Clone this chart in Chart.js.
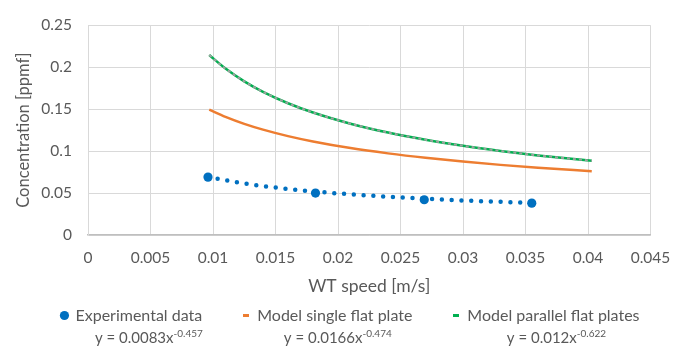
<!DOCTYPE html>
<html>
<head>
<meta charset="utf-8">
<title>Concentration vs WT speed</title>
<script src="https://cdn.jsdelivr.net/npm/chart.js@4.4.0/dist/chart.umd.min.js"></script>
<style>
    html, body { margin: 0; padding: 0; background: #fff; }
    #wrap { width: 688px; height: 355px; }
</style>
</head>
<body>
<div id="wrap"><canvas id="concChart" width="688" height="355"></canvas></div>
<script>
// Measured points
const expSpeed = [0.0096, 0.0182, 0.0269, 0.0355];
const expConc = [0.069, 0.050, 0.042, 0.038];

const trendSpeed = [0.0096, 0.012, 0.015, 0.018, 0.021, 0.024, 0.027, 0.030, 0.0355];
const trendConc = [0.0694, 0.0626, 0.0566, 0.0520, 0.0485, 0.0456, 0.0432, 0.0412, 0.0382];

// Model curves
const modelSpeed = [0.0097, 0.011, 0.0125, 0.014, 0.016, 0.018, 0.021, 0.024, 0.027, 0.030, 0.033, 0.036, 0.0403];
const singlePlate = [0.1494, 0.1408, 0.1325, 0.1256, 0.1179, 0.1115, 0.1036, 0.0973, 0.0920, 0.0875, 0.0836, 0.0802, 0.0761];
const parallelPlates = [0.2145, 0.1984, 0.1832, 0.1707, 0.1571, 0.1460, 0.1327, 0.1221, 0.1135, 0.1063, 0.1002, 0.0949, 0.0885];

// Axis ticks
const xTickValues = [0, 0.005, 0.01, 0.015, 0.02, 0.025, 0.03, 0.035, 0.04, 0.045];
const yTickValues = [0, 0.05, 0.1, 0.15, 0.2, 0.25];

// Legend names and fitted equations shown under them
const seriesNames = ['Experimental data', 'Model single flat plate', 'Model parallel flat plates'];
const fitCoef = ['0.0083', '0.0166', '0.012'];
const fitExp = ['-0.457', '-0.474', '-0.622'];

const textColor = '#595959';
const fontFamily = 'Lato, "Liberation Sans", sans-serif';

const toPoints = (xs, ys) => xs.map((x, i) => ({ x: x, y: ys[i] }));

// small dash used as legend marker for the line series
const makeDash = (color) => {
    const c = document.createElement('canvas');
    c.width = 6;
    c.height = 3;
    const g = c.getContext('2d');
    g.fillStyle = color;
    g.fillRect(0, 0, 6, 3);
    return c;
};

const fmtTick = (v) => String(Number(Number(v).toFixed(3)));

// draws "y = ax^b" under each legend entry
const equationPlugin = {
    id: 'equations',
    afterDraw(chart) {
        const legend = chart.legend;
        if (!legend || !legend.legendHitBoxes) return;
        const ctx = chart.ctx;
        const shift = [17, 10, 10];
        ctx.save();
        ctx.fillStyle = textColor;
        ctx.textBaseline = 'alphabetic';
        legend.legendHitBoxes.forEach((box, i) => {
            if (i >= fitCoef.length) return;
            const base = 'y = ' + fitCoef[i] + 'x';
            const sup = fitExp[i];
            ctx.font = '15px ' + fontFamily;
            const wBase = ctx.measureText(base).width;
            ctx.font = '10px ' + fontFamily;
            const wSup = ctx.measureText(sup).width;
            const cx = box.left + box.width / 2 + shift[i];
            const x0 = cx - (wBase + wSup) / 2;
            const y0 = box.top + box.height / 2 + 27;
            ctx.font = '15px ' + fontFamily;
            ctx.textAlign = 'left';
            ctx.fillText(base, x0, y0);
            ctx.font = '10px ' + fontFamily;
            ctx.fillText(sup, x0 + wBase, y0 - 6);
        });
        ctx.restore();
    }
};

document.addEventListener('DOMContentLoaded', () => {
    Chart.defaults.font.family = fontFamily;
    Chart.defaults.color = textColor;

    const ctx = document.getElementById('concChart');
    new Chart(ctx, {
        type: 'scatter',
        data: {
            datasets: [
                {
                    label: seriesNames[0],
                    data: toPoints(expSpeed, expConc),
                    backgroundColor: '#0070C0',
                    borderColor: '#0070C0',
                    pointStyle: 'circle',
                    pointRadius: 4.6,
                    pointBorderWidth: 0,
                    showLine: false
                },
                {
                    label: seriesNames[1],
                    data: toPoints(modelSpeed, singlePlate),
                    showLine: true,
                    borderColor: '#ED7D31',
                    backgroundColor: '#ED7D31',
                    borderWidth: 2.5,
                    pointRadius: 0,
                    pointStyle: makeDash('#ED7D31'),
                    cubicInterpolationMode: 'monotone'
                },
                {
                    label: seriesNames[2],
                    data: toPoints(modelSpeed, parallelPlates),
                    showLine: true,
                    borderColor: '#00B050',
                    backgroundColor: '#00B050',
                    borderWidth: 2.5,
                    pointRadius: 0,
                    pointStyle: makeDash('#00B050'),
                    cubicInterpolationMode: 'monotone'
                },
                {
                    label: 'trend',
                    data: toPoints(trendSpeed, trendConc),
                    showLine: true,
                    borderColor: '#0070C0',
                    borderWidth: 4.5,
                    borderDash: [0, 9.8],
                    borderCapStyle: 'round',
                    pointRadius: 0,
                    cubicInterpolationMode: 'monotone'
                },
                {
                    // grey dashes seen over the green model line
                    label: 'overlay',
                    data: toPoints(modelSpeed, parallelPlates),
                    showLine: true,
                    borderColor: '#a0a0a0',
                    borderWidth: 2,
                    borderDash: [3, 3],
                    pointRadius: 0,
                    order: -1,
                    cubicInterpolationMode: 'monotone'
                }
            ]
        },
        options: {
            responsive: false,
            animation: false,
            devicePixelRatio: 1,
            layout: {
                padding: { left: 13, right: 0, top: 13, bottom: 21.5 }
            },
            plugins: {
                tooltip: { enabled: false },
                legend: {
                    position: 'bottom',
                    labels: {
                        usePointStyle: true,
                        boxWidth: 6,
                        boxHeight: 6.5,
                        padding: 41,
                        color: textColor,
                        font: { size: 16 },
                        filter: (item) => item.datasetIndex < 3
                    }
                }
            },
            scales: {
                x: {
                    type: 'linear',
                    min: 0,
                    max: 0.045,
                    afterBuildTicks: (scale) => {
                        scale.ticks = xTickValues.map(v => ({ value: v }));
                    },
                    // legend padding grew by 5, so the axis strip shrinks by 5
                    afterFit: (scale) => { scale.height = 31.5; },
                    ticks: {
                        padding: 14,
                        color: textColor,
                        font: { size: 15.5 },
                        maxRotation: 0,
                        callback: fmtTick
                    },
                    grid: { color: '#d9d9d9', lineWidth: 1, drawTicks: false },
                    border: { color: '#bfbfbf', width: 1.5 },
                    title: {
                        display: true,
                        text: 'WT speed [m/s]',
                        color: textColor,
                        font: { size: 17.5 },
                        padding: { top: 0, bottom: -30.5 }
                    }
                },
                y: {
                    type: 'linear',
                    min: 0,
                    max: 0.25,
                    afterBuildTicks: (scale) => {
                        scale.ticks = yTickValues.map(v => ({ value: v }));
                    },
                    afterFit: (scale) => { scale.width = 75; },
                    ticks: {
                        padding: 16,
                        color: textColor,
                        font: { size: 15.5 },
                        callback: fmtTick
                    },
                    grid: { color: '#d9d9d9', lineWidth: 1, drawTicks: false },
                    border: { color: '#d9d9d9', width: 1 },
                    title: {
                        display: true,
                        text: 'Concentration [ppmf]',
                        color: textColor,
                        font: { size: 16.5 },
                        padding: { top: 1, bottom: 0 }
                    }
                },
                // empty right-hand strip so the plot ends at 0.045 like the original
                y2: {
                    position: 'right',
                    display: true,
                    afterFit: (scale) => { scale.width = 37.5; },
                    grid: { display: false },
                    border: { display: false },
                    ticks: { display: false }
                }
            }
        },
        plugins: [equationPlugin]
    });
});
</script>
</body>
</html>
